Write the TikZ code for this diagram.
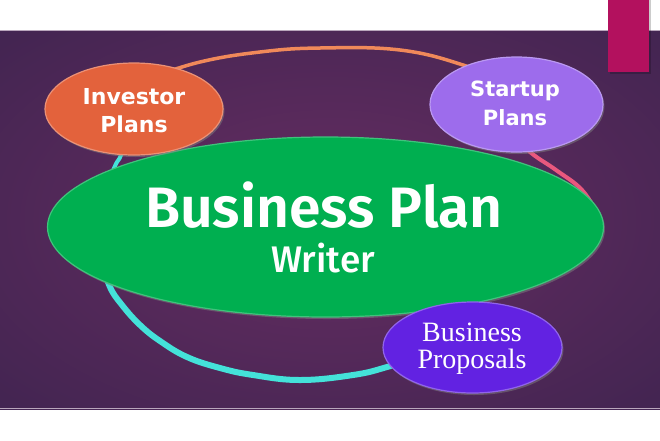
\documentclass[tikz,border=0pt]{standalone}
\usepackage{fontspec}
\usetikzlibrary{shapes.geometric,shadows}
\newfontfamily\bpfont{Fira Sans SemiBold}
\newfontfamily\bpmfont{Fira Sans Medium}
\newfontfamily\dvfont{DejaVu Sans}
\newfontfamily\serfont{Liberation Serif}
\definecolor{bgin}{HTML}{5E2B5E}
\definecolor{bgout}{HTML}{2A1F46}
\definecolor{invc}{HTML}{E3623C}
\definecolor{stc}{HTML}{9D6CEC}
\definecolor{prc}{HTML}{6222E2}
\definecolor{grc}{HTML}{00AF50}
\definecolor{ringor}{HTML}{F0895A}
\definecolor{ringpk}{HTML}{E9587E}
\definecolor{ringcy}{HTML}{44E2D9}
\definecolor{magc}{HTML}{B3115E}
\definecolor{bandline}{HTML}{B9A6BC}
\pgfdeclareradialshading{bgshade}{\pgfpoint{0bp}{0bp}}{color(0bp)=(bgin); color(8bp)=(bgin); color(60bp)=(bgout); color(72bp)=(bgout)}
\tikzset{
  bubble/.style={ellipse, inner sep=0pt, line width=1.2pt,
    drop shadow={shadow xshift=1.5pt, shadow yshift=-2pt, opacity=0.5}},
  ringline/.style={line cap=round, line join=round},
  lbl/.style={anchor=base, inner sep=0pt, text=white},
  lbl2/.style={anchor=north, inner sep=0pt, text=white, align=center}
}
\begin{document}
\begin{tikzpicture}[x=1pt,y=-1pt]
\useasboundingbox (0,0) rectangle (660,440);
\fill[white] (0,0) rectangle (660,440);
\shade[shading=bgshade] (0,30) rectangle (660,409);
\draw[bandline, line width=0.8pt] (0,30.4) -- (660,30.4);
\draw[bandline, line width=0.8pt] (0,408.6) -- (660,408.6);
% magenta tab
\fill[black, opacity=0.2] (610,0) rectangle (651,74);
\fill[magc] (608,0) rectangle (649,72);
% ring
\draw[ringline, ringor, line width=3.5pt] plot[smooth, tension=0.7] coordinates {(150,78) (200,62) (260,52) (320,48) (400,50) (463,65) (495,80)};
\draw[ringline, ringpk, line width=4pt] plot[smooth, tension=0.7] coordinates {(505,128) (530,152) (556,170) (582,190) (598,215)};
\draw[ringline, ringcy, line width=4pt] plot[smooth, tension=0.7] coordinates {(126,135) (121,155) (115,166) (106,190) (100,230)};
\draw[ringline, ringcy, line width=6pt] plot[smooth, tension=0.7] coordinates {(100,235) (104,265) (110,287) (122,305) (140,325) (160,341) (187,357) (220,368) (253,375) (300,380) (353,375) (387,367) (420,356)};
% ellipses
\node[bubble, fill=grc, draw=grc!75!white, minimum width=556pt, minimum height=180pt] (bp) at (325.5,227) {};
\node[bubble, fill=invc, draw=invc!70!white, minimum width=178pt, minimum height=92pt] (inv) at (134,109) {};
\node[bubble, fill=stc, draw=stc!70!white, minimum width=173pt, minimum height=95pt] (st) at (516.5,104.5) {};
\node[bubble, fill=prc, draw=prc!70!white, minimum width=179pt, minimum height=91pt] (pr) at (472.5,347.5) {};
% texts
\node[lbl, font=\bpfont\fontsize{57}{57}\selectfont] (t1) at (324,227) {Business Plan};
\node[lbl, font=\bpmfont\fontsize{37}{37}\selectfont] (t2) at (323,272) {Writer};
\node[lbl2, font=\dvfont\bfseries\fontsize{22}{28}\selectfont] (t3) at (134,88) {Investor\\Plans};
\node[lbl2, font=\dvfont\bfseries\fontsize{21}{29}\selectfont] (t5) at (515,80.5) {Startup\\Plans};
\node[lbl2, font=\serfont\fontsize{28}{27}\selectfont] (t7) at (472,322.5) {Business\\Proposals};
\end{tikzpicture}
\end{document}
